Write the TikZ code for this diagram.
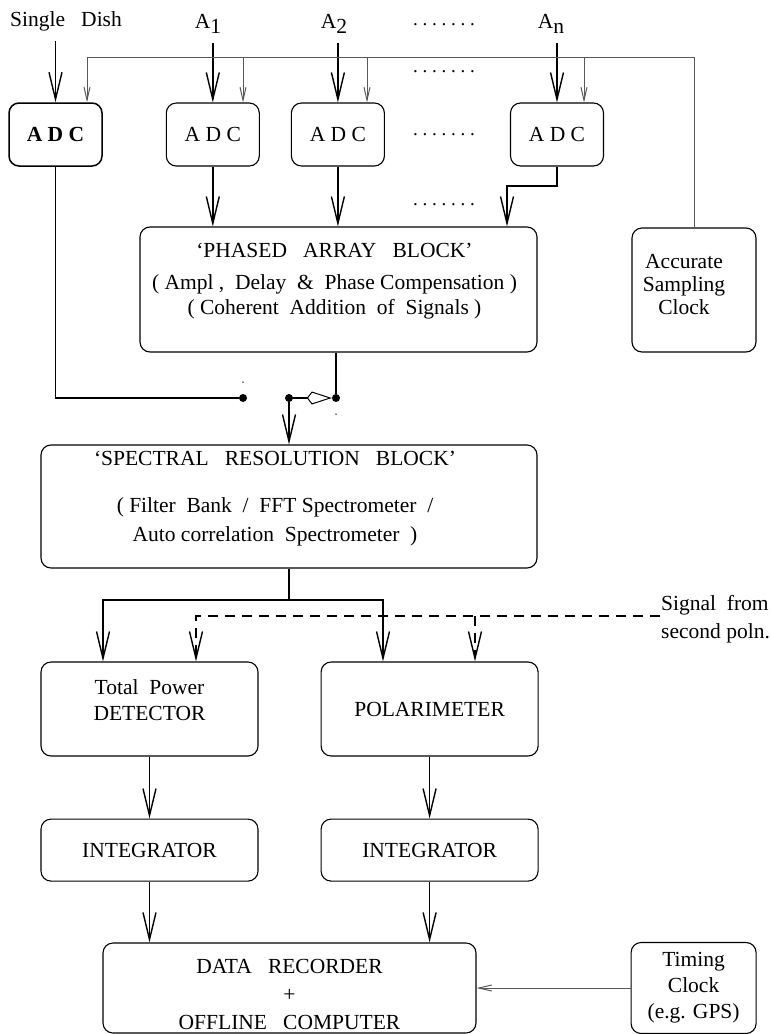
\documentclass[tikz,border=0pt]{standalone}
\usepackage{fontspec}
\setmainfont{Liberation Serif}
\usetikzlibrary{arrows.meta, positioning}

\newcommand{\diagfont}{\fontsize{21.5}{26}\selectfont}
\newcommand{\antsub}[1]{\raisebox{-5pt}{#1}}

\begin{document}
\begin{tikzpicture}[
    x=1pt, y=-1pt,
    font=\diagfont,
    box/.style={rectangle, draw, rounded corners=10pt, line width=1.1pt, align=center, inner sep=0pt},
    adcbox/.style={box, minimum width=93pt, minimum height=63pt},
    widebox/.style={box, minimum width=217pt, minimum height=94pt},
    intbox/.style={box, minimum width=217pt, minimum height=62pt},
    lbl/.style={inner sep=1pt},
    dotrow/.style={inner sep=0pt, font=\fontsize{19}{20}\selectfont},
    wire/.style={line width=1.4pt},
    arrow/.style={wire, -{Straight Barb[length=27pt, width=13pt]}},
    dasharrow/.style={arrow, dash pattern=on 10pt off 7pt},
    clk/.style={line width=1pt, draw=black!65},
    clkarrow/.style={clk, -{Straight Barb[length=13pt, width=6pt]}},
    dot/.style={circle, fill, inner sep=0pt, minimum size=8pt},
    speck/.style={circle, fill, inner sep=0pt, minimum size=1.5pt},
    switch/.style={wire, -{Kite[open, length=25pt, width=13pt, inset=5pt, line width=1pt]}}
]
\useasboundingbox (0,0) rectangle (771,1034);

% Antenna inputs
\node[lbl] (sd) at (66,21) {Single~~~Dish};
\node[lbl] (a1) at (208,23.5) {A\antsub{1}};
\node[lbl] (a2) at (334,23.5) {A\antsub{2}};
\node[lbl] (an) at (551,23.5) {A\antsub{n}};
\node[dotrow] (dots1) at (444,25) {.~.~.~.~.~.~.};
\node[dotrow] (dots2) at (444,72) {.~.~.~.~.~.~.};
\node[dotrow] (dots3) at (444,135) {.~.~.~.~.~.~.};
\node[dotrow] (dots4) at (444,205) {.~.~.~.~.~.~.};

% Digitisers
\node[adcbox, line width=1.5pt, font=\diagfont\bfseries] (adcsd) at (55.5,134.5) {A D C};
\node[adcbox, right=63pt of adcsd] (adc1) {A D C};
\node[adcbox, right=31pt of adc1] (adc2) {A D C};
\node[adcbox, right=125pt of adc2] (adcn) {A D C};

% Beam forming
\node[box, minimum width=397pt, minimum height=125pt,
    label={[align=center, xshift=-4pt, yshift=8pt]center:{`PHASED~~~ARRAY~~~BLOCK'\\[6pt](~Ampl~,~~Delay~~\&~~Phase Compensation~)\\[-1pt](~Coherent~~Addition~~of~~Signals~)}}] (phased) at (338.5,289.5) {};
\node[box, minimum width=124pt, minimum height=124pt,
    label={[align=center, xshift=-10pt, yshift=5pt]center:{Accurate\\[-3pt]Sampling\\[-3pt]Clock}}] (clock) at (694,290) {};

% Selector switch
\node[dot] (d1) at (243,398) {};
\node[dot] (d2) at (289,398) {};
\node[dot] (d3) at (336,398) {};
\node[speck] (s1) at (243,382) {};
\node[speck] (s2) at (336,414) {};

% Back end
\node[box, minimum width=496pt, minimum height=123pt,
    label={[align=center, xshift=-14pt, yshift=7.5pt]center:{`SPECTRAL~~~RESOLUTION~~~BLOCK'\\[21pt](~Filter~~Bank~~/~~FFT Spectrometer~~/\\[3pt]Auto correlation~~Spectrometer~~)}}] (spectral) at (289,506.5) {};
\node[widebox, label={[align=center, yshift=9pt]center:{Total~~Power\\DETECTOR}}] (tp) at (149.5,709) {};
\node[widebox, right=62pt of tp] (pol) {POLARIMETER};
\node[intbox, below=62pt of tp] (intl) {INTEGRATOR};
\node[intbox, below=62pt of pol] (intr) {INTEGRATOR};
\node[box, minimum width=373pt, minimum height=90pt,
    label={[align=center, yshift=-6.5pt]center:{DATA~~~RECORDER\\[2pt]+\\[2pt]OFFLINE~~~COMPUTER}}] (rec) at (289.5,988) {};
\node[box, minimum width=125pt, minimum height=91pt, right=154pt of rec] (timing) {Timing\\Clock\\(e.g. GPS)};
\node[lbl, align=left, anchor=west] (sig) at (660,619) {Signal~~from\\[2pt]second poln.};

% Inputs into the ADCs
\draw[arrow, shorten <=9pt] (sd.south -| adcsd.north) -- (adcsd.north);
\draw[arrow, shorten <=9pt] (a1.south -| adc1.north) -- (adc1.north);
\draw[arrow, shorten <=9pt] (a2.south -| adc2.north) -- (adc2.north);
\draw[arrow, shorten <=9pt] (an.south -| adcn.north) -- (adcn.north);

% Sampling clock bus
\coordinate (bus0) at (87,57);
\coordinate (bus1) at (243,57);
\coordinate (bus2) at (367,57);
\coordinate (busn) at (584,57);
\draw[clkarrow] (clock.north) |- (bus0) -- (bus0 |- adcsd.north);
\draw[clkarrow] (bus1) -- (bus1 |- adc1.north);
\draw[clkarrow] (bus2) -- (bus2 |- adc2.north);
\draw[clkarrow] (busn) -- (busn |- adcn.north);

% ADC outputs
\coordinate (nbend) at (507,186);
\draw[wire] (adcsd.south) |- (d1);
\draw[arrow] (adc1.south) -- (adc1.south |- phased.north);
\draw[arrow] (adc2.south) -- (adc2.south |- phased.north);
\draw[arrow] (adcn.south) |- (nbend) -- (nbend |- phased.north);

% Switch
\draw[wire] (d3 |- phased.south) -- (d3);
\draw[switch] (d2) -- (d3);
\draw[arrow] (d2) -- (d2 |- spectral.north);

% Spectral outputs
\coordinate (tpin) at (103,600);
\coordinate (polin) at (383,600);
\draw[arrow] (spectral.south) |- (tpin) -- (tpin |- tp.north);
\draw[arrow] (spectral.south) |- (polin) -- (polin |- pol.north);

% Second polarisation
\coordinate (tpdash) at (196,616);
\coordinate (poldash) at (475,616);
\draw[dasharrow] (sig.west |- tpdash) -| (tpdash |- tp.north);
\draw[dasharrow] (poldash) -- (poldash |- pol.north);

% Detection and recording
\draw[arrow] (tp) -- (intl);
\draw[arrow] (pol) -- (intr);
\draw[arrow] (intl) -- (intl |- rec.north);
\draw[arrow] (intr) -- (intr |- rec.north);
\draw[clkarrow] (timing) -- (timing -| rec.east);

\end{tikzpicture}
\end{document}
